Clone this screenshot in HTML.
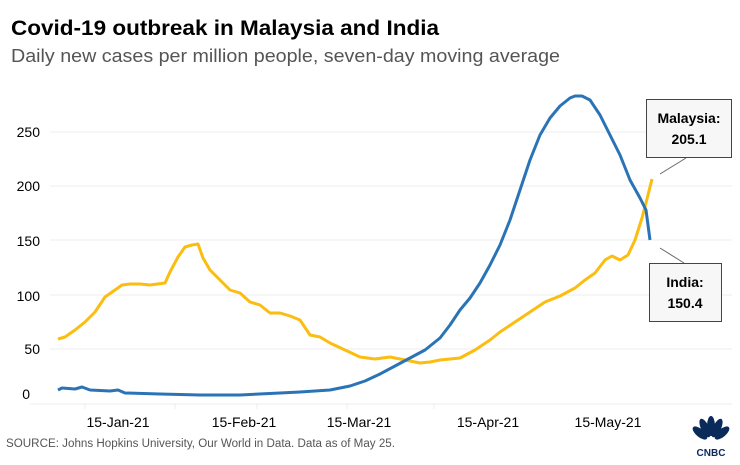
<!DOCTYPE html>
<html><head><meta charset="utf-8"><style>
body{margin:0;background:#fff;width:740px;height:460px;overflow:hidden;font-family:"Liberation Sans",sans-serif}
</style></head><body>
<svg width="740" height="460" xmlns="http://www.w3.org/2000/svg" font-family="Liberation Sans, sans-serif">
<text x="11" y="35" font-size="21" font-weight="bold" fill="#000" textLength="428" lengthAdjust="spacingAndGlyphs">Covid-19 outbreak in Malaysia and India</text>
<text x="11" y="62" font-size="18" fill="#555" textLength="549" lengthAdjust="spacingAndGlyphs">Daily new cases per million people, seven-day moving average</text>
<g stroke="#ececec" stroke-width="1">
<line x1="50" y1="132" x2="732" y2="132"/><line x1="50" y1="186" x2="732" y2="186"/>
<line x1="50" y1="240" x2="732" y2="240"/><line x1="50" y1="295" x2="732" y2="295"/>
<line x1="50" y1="349" x2="732" y2="349"/><line x1="30" y1="404" x2="732" y2="404"/>
<line x1="85" y1="404" x2="85" y2="409"/><line x1="175" y1="404" x2="175" y2="409"/>
<line x1="257" y1="404" x2="257" y2="409"/><line x1="347" y1="404" x2="347" y2="409"/><line x1="434" y1="404" x2="434" y2="409"/>
</g>
<g font-size="14" fill="#000" text-anchor="end">
<text x="40" y="137">250</text><text x="40" y="191">200</text><text x="40" y="246">150</text>
<text x="40" y="301">100</text><text x="40" y="354">50</text><text x="30" y="399">0</text>
</g>
<g font-size="14" fill="#000" text-anchor="middle">
<text x="118" y="427">15-Jan-21</text><text x="244" y="427">15-Feb-21</text><text x="359" y="427">15-Mar-21</text>
<text x="488" y="427">15-Apr-21</text><text x="608" y="427">15-May-21</text>
</g>
<polyline fill="none" stroke="#fbbd0f" stroke-width="3" stroke-linejoin="round" points="58,339 65,337 75,330 85,322 95,312 105,297 115,290 122,285 130,284 140,284 150,285 165,283 170,272 178,257 185,247 192,245 198,244 203,258 210,270 220,280 230,290 240,293 250,302 260,305 270,313 280,313 290,316 300,320 310,335 320,337 330,343 345,350 360,357 375,359 390,357 400,359 410,361 420,363 430,362 440,360 460,358 475,350 490,340 500,332 515,322 530,312 545,302 560,296 575,288 585,280 595,273 605,260 612,256 620,260 628,255 635,240 642,218 648,195 652,179"/>
<polyline fill="none" stroke="#2a74b5" stroke-width="3" stroke-linejoin="round" points="58,390 62,388 75,389 82,387 90,390 110,391 118,390 125,393 160,394 200,395 240,395 280,393 300,392 330,390 350,386 365,381 380,374 395,366 410,358 425,350 440,338 450,325 460,310 470,298 480,283 490,265 500,245 510,220 520,190 530,160 540,135 550,118 560,106 570,98 575,96 582,96 590,100 600,115 610,135 620,155 630,180 640,198 646,210 648,225 650,240"/>
<line x1="660" y1="174" x2="686" y2="158" stroke="#666" stroke-width="1"/>
<line x1="660" y1="248" x2="684" y2="263" stroke="#666" stroke-width="1"/>
<rect x="646.5" y="99.5" width="85" height="58" fill="#f7f7f7" stroke="#444"/>
<text x="689" y="123" font-size="14" font-weight="bold" text-anchor="middle">Malaysia:</text>
<text x="689" y="144" font-size="14" font-weight="bold" text-anchor="middle">205.1</text>
<rect x="649.5" y="263.5" width="72" height="58" fill="#f7f7f7" stroke="#444"/>
<text x="685" y="287" font-size="14" font-weight="bold" text-anchor="middle">India:</text>
<text x="685" y="308" font-size="14" font-weight="bold" text-anchor="middle">150.4</text>
<text x="6" y="447" font-size="11.5" fill="#555" textLength="389" lengthAdjust="spacingAndGlyphs">SOURCE: Johns Hopkins University, Our World in Data. Data as of May 25.</text>
<g fill="#0a2a5a">
<ellipse cx="700" cy="433" rx="4" ry="9" transform="rotate(-50 700 433)"/>
<ellipse cx="705" cy="428" rx="4" ry="10" transform="rotate(-25 705 428)"/>
<ellipse cx="711" cy="426" rx="4" ry="10"/>
<ellipse cx="717" cy="428" rx="4" ry="10" transform="rotate(25 717 428)"/>
<ellipse cx="722" cy="433" rx="4" ry="9" transform="rotate(50 722 433)"/>
<text x="711" y="456" font-size="10" font-weight="bold" text-anchor="middle">CNBC</text>
</g>
</svg>
</body></html>
